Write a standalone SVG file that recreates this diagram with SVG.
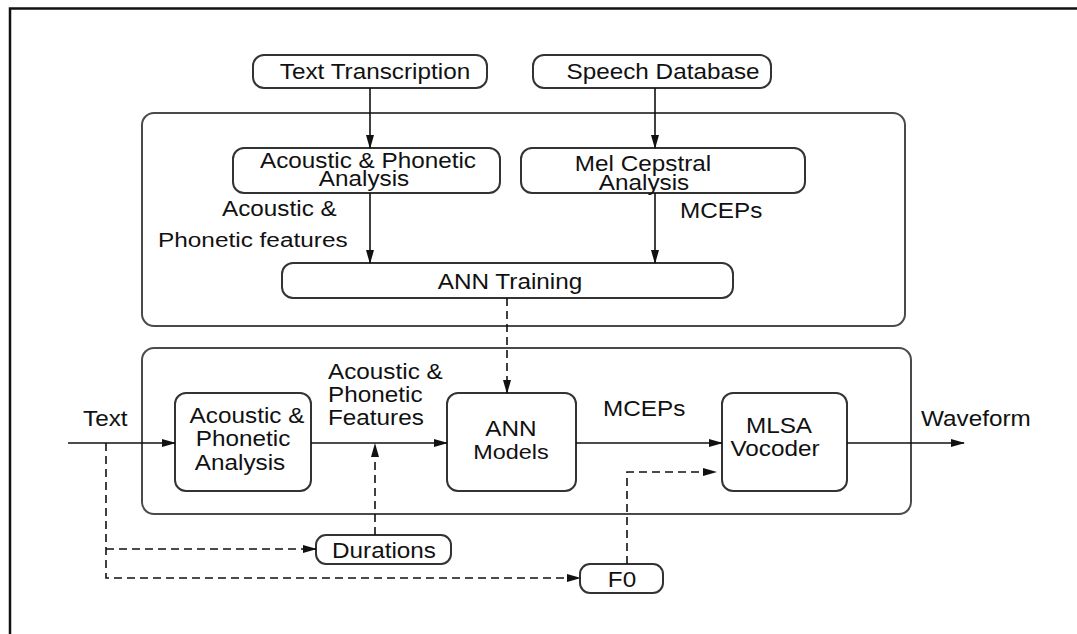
<svg xmlns="http://www.w3.org/2000/svg" width="1077" height="634" viewBox="0 0 1077 634">
  <style>
    .frame { fill: none; stroke: #111; stroke-width: 2.5; }
    .group { fill: none; stroke: #4a4a4a; stroke-width: 2; }
    .box { fill: #fff; stroke: #333; stroke-width: 2; }
    .lbl { font-family: "Liberation Sans", Arial, Helvetica, sans-serif; font-size: 21.5px; fill: #111; }
    .sm { font-size: 19.5px; }
    .mid { text-anchor: middle; }
    .solid { fill: none; stroke: #111; stroke-width: 1.6; }
    .dash { fill: none; stroke: #111; stroke-width: 1.6; stroke-dasharray: 8 5; }
  </style>
  <defs>
    <marker id="arr" viewBox="0 0 14 10" refX="13" refY="5" markerWidth="14" markerHeight="10" markerUnits="userSpaceOnUse" orient="auto">
      <path d="M0,1 L14,5 L0,9 Z" fill="#111"/>
    </marker>
  </defs>

  <rect width="1077" height="634" fill="#fff"/>
  <!-- page frame: top and left edges only -->
  <path class="frame" d="M10,634 L10,8.5 L1077,8.5"/>

  <!-- training and synthesis group outlines -->
  <g id="training-stage">
    <rect class="group" x="142" y="113" width="763" height="213" rx="12"/>
  </g>
  <g id="synthesis-stage">
    <rect class="group" x="142" y="348" width="769" height="166" rx="12"/>
  </g>

  <!-- text is set in a slightly widened sans: scale(1.13,1) on each label -->
  <g id="text-transcription">
    <rect class="box" x="253" y="55" width="234" height="33" rx="11"/>
    <text class="lbl mid" transform="translate(375 79) scale(1.13 1)">Text Transcription</text>
  </g>
  <g id="speech-database">
    <rect class="box" x="533" y="55" width="238" height="33" rx="11"/>
    <text class="lbl mid" transform="translate(663 79) scale(1.13 1)">Speech Database</text>
  </g>

  <g id="ap-analysis-train">
    <rect class="box" x="233" y="148" width="267" height="45" rx="11"/>
    <text class="lbl mid" transform="translate(368 168) scale(1.13 1)">Acoustic &amp; Phonetic</text>
    <text class="lbl mid" transform="translate(364 186) scale(1.13 1)">Analysis</text>
  </g>
  <g id="mel-cepstral">
    <rect class="box" x="521" y="148" width="284" height="45" rx="11"/>
    <text class="lbl mid" transform="translate(643 171) scale(1.13 1)">Mel Cepstral</text>
    <text class="lbl mid" transform="translate(644 190) scale(1.13 1)">Analysis</text>
  </g>
  <g id="ann-training">
    <rect class="box" x="282" y="263" width="451" height="35" rx="11"/>
    <text class="lbl mid" transform="translate(510 289) scale(1.13 1)">ANN Training</text>
  </g>

  <g id="ap-analysis-synth">
    <rect class="box" x="175" y="393" width="136" height="98" rx="11"/>
    <text class="lbl mid" transform="translate(247 423) scale(1.13 1)">Acoustic &amp;</text>
    <text class="lbl mid" transform="translate(243 446) scale(1.13 1)">Phonetic</text>
    <text class="lbl mid" transform="translate(240 470) scale(1.13 1)">Analysis</text>
  </g>
  <g id="ann-models">
    <rect class="box" x="447" y="393" width="129" height="98" rx="11"/>
    <text class="lbl mid" transform="translate(511 436) scale(1.13 1)">ANN</text>
    <text class="lbl sm mid" transform="translate(511 459) scale(1.2 1)">Models</text>
  </g>
  <g id="mlsa-vocoder">
    <rect class="box" x="722" y="393" width="125" height="98" rx="11"/>
    <text class="lbl mid" transform="translate(779 433) scale(1.13 1)">MLSA</text>
    <text class="lbl mid" transform="translate(775 456) scale(1.13 1)">Vocoder</text>
  </g>

  <g id="durations">
    <rect class="box" x="316" y="535" width="135" height="29" rx="10"/>
    <text class="lbl mid" transform="translate(384 558) scale(1.13 1)">Durations</text>
  </g>
  <g id="f0">
    <rect class="box" x="580" y="564" width="83" height="29" rx="10"/>
    <text class="lbl mid" transform="translate(622 587) scale(1.13 1)">F0</text>
  </g>

  <!-- connector labels -->
  <g id="labels">
    <text class="lbl" transform="translate(222 216) scale(1.13 1)">Acoustic &amp;</text>
    <text class="lbl sm" transform="translate(158 247) scale(1.25 1)">Phonetic features</text>
    <text class="lbl" transform="translate(680 218) scale(1.13 1)">MCEPs</text>
    <text class="lbl" transform="translate(83 426) scale(1.13 1)">Text</text>
    <text class="lbl" transform="translate(328 379) scale(1.13 1)">Acoustic &amp;</text>
    <text class="lbl" transform="translate(328 402) scale(1.13 1)">Phonetic</text>
    <text class="lbl" transform="translate(328 425) scale(1.13 1)">Features</text>
    <text class="lbl" transform="translate(603 416) scale(1.13 1)">MCEPs</text>
    <text class="lbl" transform="translate(921 426) scale(1.13 1)">Waveform</text>
  </g>

  <g id="connectors">
    <line class="solid" x1="370" y1="88" x2="370" y2="148" marker-end="url(#arr)"/>
    <line class="solid" x1="655" y1="88" x2="655" y2="148" marker-end="url(#arr)"/>
    <line class="solid" x1="370" y1="193" x2="370" y2="263" marker-end="url(#arr)"/>
    <line class="solid" x1="655" y1="193" x2="655" y2="263" marker-end="url(#arr)"/>
    <line class="dash" x1="507" y1="298" x2="507" y2="393" marker-end="url(#arr)"/>
    <line class="solid" x1="68" y1="443" x2="175" y2="443" marker-end="url(#arr)"/>
    <line class="solid" x1="311" y1="443" x2="447" y2="443" marker-end="url(#arr)"/>
    <line class="solid" x1="576" y1="443" x2="722" y2="443" marker-end="url(#arr)"/>
    <line class="solid" x1="847" y1="443" x2="964" y2="443" marker-end="url(#arr)"/>
    <polyline class="dash" points="106,443 106,578 580,578" marker-end="url(#arr)"/>
    <line class="dash" x1="106" y1="549" x2="316" y2="549" marker-end="url(#arr)"/>
    <line class="dash" x1="375" y1="535" x2="375" y2="444" marker-end="url(#arr)"/>
    <polyline class="dash" points="627,564 627,472 716,472" marker-end="url(#arr)"/>
  </g>
</svg>
